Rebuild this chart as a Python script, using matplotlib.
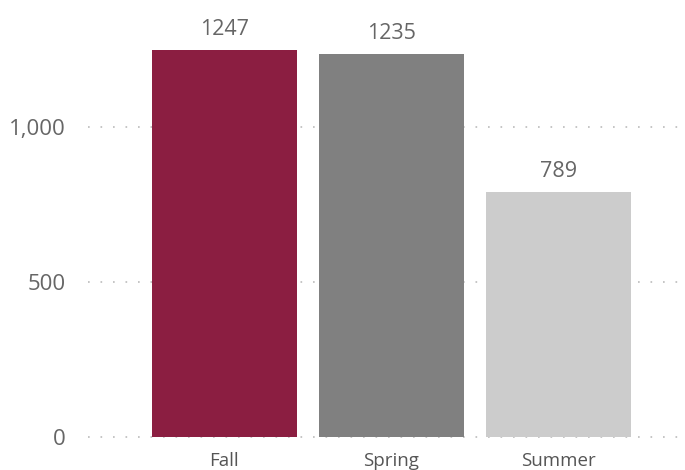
import matplotlib.pyplot as plt

categories = ['Fall', 'Spring', 'Summer']
values = [1247, 1235, 789]
colors = ['#8B1E41', '#808080', '#CCCCCC']
yticks = [0, 500, 1000]
ytick_labels = ['0', '500', '1,000']

plt.rcParams['font.family'] = ['Open Sans', 'DejaVu Sans']

fig = plt.figure(figsize=(6.85, 4.7), dpi=100)
ax = fig.add_axes([88 / 685, 33 / 470, 1 - 88 / 685, 437 / 470])

x = list(range(len(categories)))
bars = ax.bar(x, values, width=0.868, color=colors, zorder=2)

# value labels above bars
for xi, v in zip(x, values):
  ax.annotate(str(v), (xi, v), xytext=(0, 7), textcoords='offset points',
              ha='center', va='bottom', fontsize=15.5, color='#666666')

ax.set_xlim(-0.817, 2.76)
ax.set_ylim(0, 1408)
ax.set_yticks(yticks)
ax.set_yticklabels(ytick_labels)
ax.set_xticks(x)
ax.set_xticklabels(categories)

ax.tick_params(axis='y', length=0, pad=16, labelsize=16, labelcolor='#666666')
ax.tick_params(axis='x', length=0, pad=11, labelsize=13.5, labelcolor='#555555')

for t in yticks:
  ax.axhline(t, color='#BBBBBB', linewidth=1.2, dashes=(1, 6.5), zorder=1,
             clip_on=False)

for s in ax.spines.values():
  s.set_visible(False)

fig.savefig('out.png', dpi=100)
